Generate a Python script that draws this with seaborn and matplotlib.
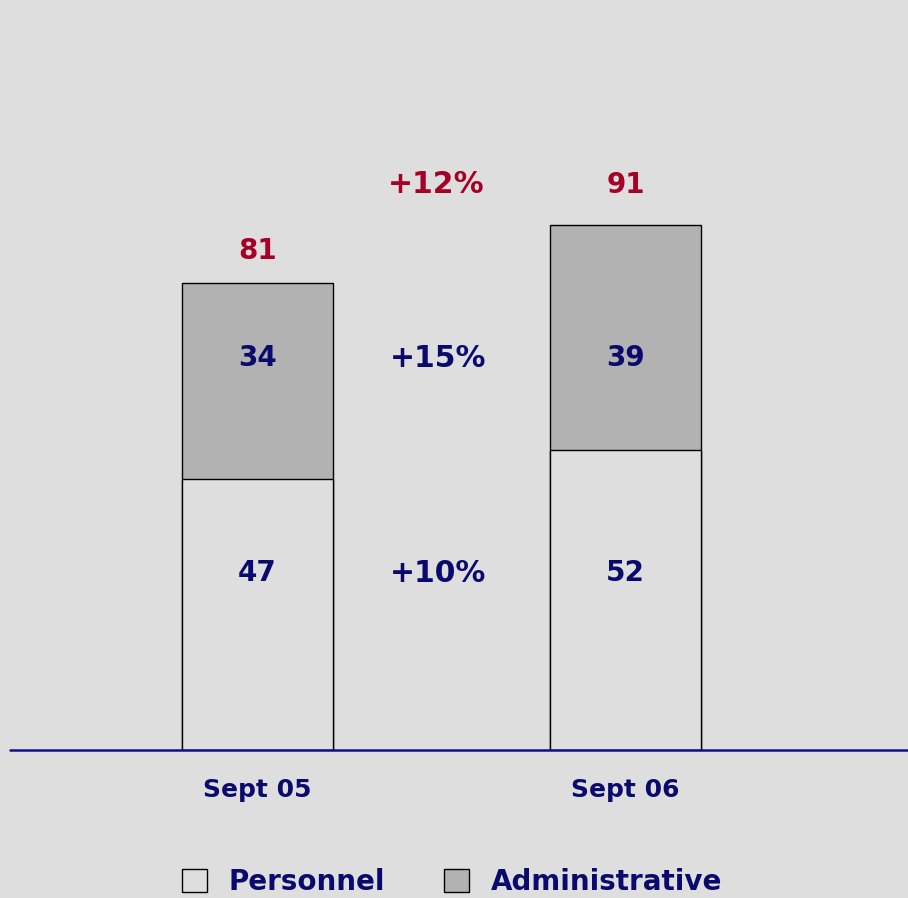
import matplotlib
matplotlib.use("Agg")
import matplotlib.pyplot as plt
import seaborn as sns
import pandas as pd
from matplotlib.patches import Patch

categories = ["Sept 05", "Sept 06"]
personnel = [47, 52]
administrative = [34, 39]
totals = [81, 91]
growth_personnel = "+10%"
growth_admin = "+15%"
growth_total = "+12%"
series_names = ["Personnel", "Administrative"]

BG = "#DEDEDE"
NAVY = "#0A0A6E"
RED = "#A50026"
GREY = "#B2B2B2"

sns.set_theme(style="white")
plt.rcParams["font.family"] = ["DejaVu Sans"]

W, H = 908, 898
fig = plt.figure(figsize=(W / 100, H / 100), dpi=100, facecolor=BG)
ax = fig.add_axes([10 / W, 1 - 750 / H, 898 / W, 750 / H])
ax.set_facecolor(BG)

df = pd.DataFrame({"cat": categories, "pers": personnel, "tot": totals})

bw = 0.41
sns.barplot(data=df, x="cat", y="tot", color=GREY, saturation=1, width=bw,
            edgecolor="black", linewidth=1.0, ax=ax)
sns.barplot(data=df, x="cat", y="pers", color=BG, saturation=1, width=bw,
            edgecolor="black", linewidth=1.0, ax=ax)

ax.set_xlim(-0.6726, 1.7677)
ax.set_ylim(0, 750 / 5.77)
for s in ax.spines.values():
    s.set_visible(False)
ax.axhline(0, color="#10108A", lw=1.8, zorder=5, clip_on=False)
ax.set_xlabel("")
ax.set_ylabel("")
ax.set_yticks([])
ax.set_xticks([0, 1])
ax.set_xticklabels(categories, fontsize=18, fontweight="bold", color=NAVY)
ax.tick_params(axis="x", length=0, pad=20)

y_low = 30.6
y_high = 67.9
fs = 20
fs_pct = 21.5
total_offsets = [5.4, 7.0]
for i in range(len(categories)):
    ax.text(i, y_low, str(personnel[i]), ha="center", va="center",
            fontsize=fs, fontweight="bold", color=NAVY)
    ax.text(i, y_high, str(administrative[i]), ha="center", va="center",
            fontsize=fs, fontweight="bold", color=NAVY)
    ax.text(i, totals[i] + total_offsets[i], str(totals[i]), ha="center", va="center",
            fontsize=fs, fontweight="bold", color=RED)

ax.text(0.49, y_low, growth_personnel, ha="center", va="center",
        fontsize=fs_pct, fontweight="bold", color=NAVY)
ax.text(0.49, y_high, growth_admin, ha="center", va="center",
        fontsize=fs_pct, fontweight="bold", color=NAVY)
ax.text(0.485, totals[1] + total_offsets[1], growth_total, ha="center", va="center",
        fontsize=fs_pct, fontweight="bold", color=RED)

handles = [Patch(facecolor=BG, edgecolor="black", linewidth=1.0),
           Patch(facecolor=GREY, edgecolor="black", linewidth=1.0)]
leg = fig.legend(handles, series_names, loc="center", bbox_to_anchor=(452 / W, 1 - 882 / H),
                 ncol=2, frameon=False, handlelength=0.9, handleheight=0.9,
                 handletextpad=0.8, columnspacing=2.1,
                 prop={"size": 20, "weight": "bold"})
for t in leg.get_texts():
    t.set_color(NAVY)

fig.savefig("out.png", dpi=100, facecolor=BG)
